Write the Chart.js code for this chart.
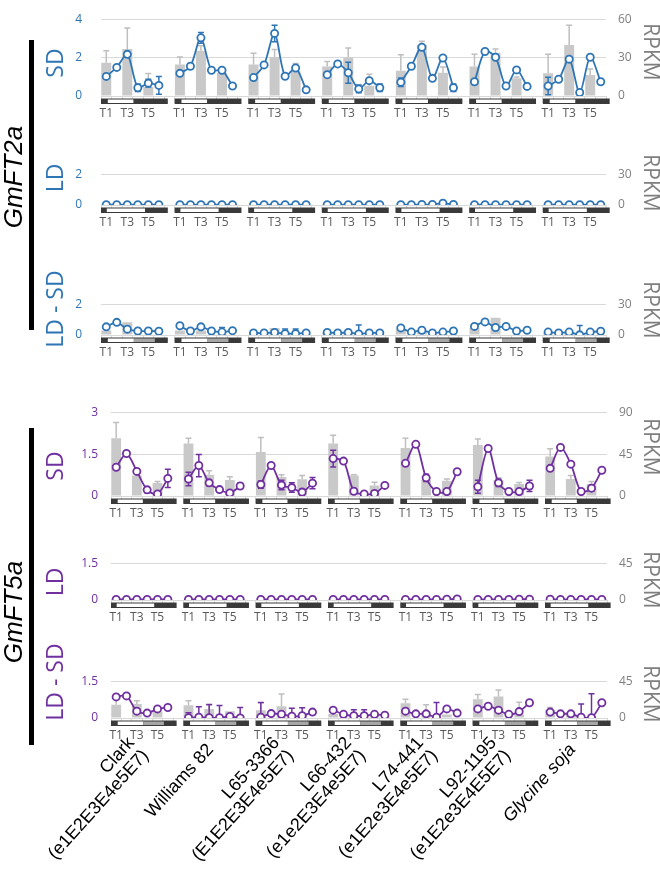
<!DOCTYPE html>
<html>
<head>
<meta charset="utf-8">
<script src="https://cdn.jsdelivr.net/npm/chart.js@4.4.1/dist/chart.umd.min.js"></script>
<style>
    body { margin: 0; background: #fff; }
    #wrap { position: relative; width: 660px; height: 881px; overflow: hidden; background: #fff; }
    #wrap canvas { position: absolute; left: 0; }
    .txt { position: absolute; white-space: nowrap; line-height: 1; }
    .bar { position: absolute; background: #000; }
    .geno { position: absolute; white-space: pre; text-align: right; font-family: "Liberation Sans", Arial, sans-serif;
            font-size: 18px; line-height: 19px; color: #000; transform-origin: 100% 50%; transform: rotate(-48deg); }
</style>
</head>
<body>
<div id="wrap"></div>
<script>
// Genotipos y etiquetas de tiempo
const genotypes = [
    ['Clark', '(e1E2E3E4e5E7)'],
    ['Williams 82'],
    ['L65-3366', '(E1E2E3E4e5E7)'],
    ['L66-432', '(e1e2E3E4e5E7)'],
    ['L74-441', '(e1E2e3E4e5E7)'],
    ['L92-1195', '(e1E2e3E4E5E7)'],
    ['Glycine soja']
];
const timeLabels = ['T1', '', 'T3', '', 'T5', ''];

// Fotoperiodo (en unidades de punto de tiempo, T1 = 0)
const sdSchedule = [['D', -0.5, 0.15], ['L', 0.15, 2.58], ['D', 2.58, 5.85]];
const ldSchedule = [['D', -0.5, 0.05], ['L', 0.05, 3.68], ['D', 3.68, 5.85]];
const ldsdSchedule = [['D', -0.5, 0.15], ['L', 0.15, 2.62], ['G', 2.62, 4.62], ['D', 4.62, 5.85]];

// GmFT2a - SD
const ft2aSdLine = [
    [1.02, 1.49, 2.17, 0.43, 0.67, 0.55],
    [1.18, 1.55, 3.03, 1.34, 1.34, 0.52],
    [0.96, 1.62, 3.26, 1.03, 1.46, 0.32],
    [1.11, 1.67, 1.21, 0.37, 0.80, 0.43],
    [0.72, 1.55, 2.54, 0.92, 1.98, 0.43],
    [0.74, 2.32, 2.02, 0.52, 1.36, 0.50],
    [0.52, 0.87, 1.92, 0.18, 2.02, 0.74]
];
const ft2aSdLineErr = [
    [0.05, 0.05, 0.12, 0.20, 0.20, 0.46],
    [0.06, 0.05, 0.28, 0.05, 0.05, 0.12],
    [0.05, 0.05, 0.43, 0.05, 0.08, 0.08],
    [0.05, 0.05, 0.55, 0.20, 0.10, 0.20],
    [0.22, 0.05, 0.08, 0.05, 0.10, 0.20],
    [0.05, 0.05, 0.10, 0.12, 0.05, 0.15],
    [0.46, 0.05, 0.05, 0.05, 0.10, 0.10]
];
const ft2aSdRpkm = [[26, 36.7, 7], [24.7, 35.3, 18.2], [24.7, 30.4, 19.3], [23, 30, 8], [19.8, 39.8, 18.2], [23, 33.8, 13.8], [17.8, 39.8, 16.4]];
const ft2aSdRpkmErr = [[9.3, 16.4, 10.5], [5.8, 4, 2], [8.7, 6, 6], [4, 7.5, 9], [12.4, 3, 4.5], [9.6, 2.9, 1], [14.9, 15.5, 4.7]];

// GmFT2a - LD
const ft2aLdLine = [
    [0.02, 0.02, 0.02, 0.02, 0.02, 0.02],
    [0.02, 0.02, 0.02, 0.02, 0.02, 0.02],
    [0.02, 0.02, 0.02, 0.02, 0.02, 0.02],
    [0.02, 0.02, 0.02, 0.02, 0.02, 0.02],
    [0.02, 0.02, 0.03, 0.03, 0.12, 0.03],
    [0.02, 0.02, 0.02, 0.02, 0.02, 0.02],
    [0.02, 0.02, 0.02, 0.02, 0.02, 0.02]
];
const ft2aLdLineErr = [
    [0, 0, 0, 0, 0, 0], [0, 0, 0, 0, 0, 0], [0, 0, 0, 0, 0, 0], [0, 0, 0, 0, 0, 0],
    [0, 0, 0, 0, 0.03, 0], [0, 0, 0, 0, 0, 0], [0, 0, 0, 0, 0, 0]
];
const ft2aLdRpkm = [[0.1, 0.1, 0.1], [0.1, 0.1, 0.1], [0.1, 0.1, 0.1], [0.1, 0.1, 0.1], [0.1, 0.2, 0.2], [0.1, 0.1, 0.1], [0.1, 0.1, 0.1]];
const ft2aLdRpkmErr = [[0, 0, 0], [0, 0, 0], [0, 0, 0], [0, 0, 0], [0, 0, 0], [0, 0, 0], [0, 0, 0]];

// GmFT2a - LD - SD
const ft2aLdSdLine = [
    [0.53, 0.82, 0.38, 0.26, 0.26, 0.24],
    [0.60, 0.26, 0.53, 0.26, 0.19, 0.28],
    [0.13, 0.13, 0.16, 0.09, 0.09, 0.13],
    [0.16, 0.13, 0.16, 0.07, 0.13, 0.13],
    [0.46, 0.19, 0.31, 0.13, 0.19, 0.26],
    [0.56, 0.85, 0.49, 0.56, 0.26, 0.31],
    [0.19, 0.13, 0.19, 0.01, 0.19, 0.24]
];
const ft2aLdSdLineErr = [
    [0.03, 0.03, 0.03, 0.06, 0.05, 0.04],
    [0.03, 0.05, 0.03, 0.04, 0.30, 0.06],
    [0.10, 0.03, 0.03, 0.30, 0.30, 0.10],
    [0.03, 0.03, 0.05, 0.58, 0.10, 0.10],
    [0.03, 0.03, 0.05, 0.06, 0.03, 0.03],
    [0.03, 0.03, 0.03, 0.03, 0.03, 0.03],
    [0.03, 0.10, 0.03, 0.60, 0.10, 0.03]
];
const ft2aLdSdRpkm = [[4.4, 12.4, 0.5], [4.4, 4.4, 1], [1, 6.8, 0.3], [2, 2, 0.5], [5.7, 3.5, 0.3], [6.8, 16.8, 0.5], [2, 2, 0.5]];
const ft2aLdSdRpkmErr = [[0, 0, 0], [0, 0, 0], [0, 0, 0], [0, 0, 0], [0, 0, 0], [0, 0, 0], [0, 0, 0]];

// GmFT5a - SD
const ft5aSdLine = [
    [1.03, 1.52, 0.88, 0.22, 0.07, 0.63],
    [0.61, 1.09, 0.47, 0.23, 0.11, 0.36],
    [0.41, 1.09, 0.39, 0.30, 0.14, 0.46],
    [1.34, 1.25, 0.17, 0.07, 0.09, 0.38],
    [1.17, 1.85, 0.65, 0.16, 0.16, 0.87],
    [0.33, 1.70, 0.47, 0.16, 0.16, 0.36],
    [0.99, 1.74, 1.14, 0.16, 0.28, 0.92]
];
const ft5aSdLineErr = [
    [0.04, 0.07, 0.04, 0.10, 0.04, 0.33],
    [0.24, 0.40, 0.10, 0.04, 0.07, 0.10],
    [0.13, 0.04, 0.17, 0.17, 0.10, 0.20],
    [0.30, 0.04, 0.04, 0.04, 0.04, 0.08],
    [0.04, 0.07, 0.13, 0.04, 0.04, 0.10],
    [0.23, 0.07, 0.13, 0.04, 0.04, 0.20],
    [0.04, 0.07, 0.04, 0.04, 0.10, 0.04]
];
const ft5aSdRpkm = [[61.9, 22.1, 14], [56.4, 22.8, 17.3], [47.2, 20.5, 17.9], [56.4, 22, 11.4], [51.5, 17.3, 16.3], [54.7, 17.3, 13], [42.3, 18.2, 13]];
const ft5aSdRpkmErr = [[17, 1, 1.6], [5.5, 4.2, 3.3], [15.6, 2.3, 4.2], [8.8, 0.7, 3.3], [10.4, 1.6, 2], [6.5, 2.3, 1.6], [8.5, 3.9, 2.6]];

// GmFT5a - LD
const ft5aLdLine = [
    [0.02, 0.02, 0.02, 0.02, 0.02, 0.02],
    [0.02, 0.02, 0.02, 0.02, 0.02, 0.02],
    [0.02, 0.02, 0.02, 0.02, 0.02, 0.02],
    [0.02, 0.02, 0.02, 0.02, 0.02, 0.02],
    [0.02, 0.02, 0.02, 0.02, 0.03, 0.04],
    [0.02, 0.02, 0.02, 0.02, 0.03, 0.03],
    [0.03, 0.02, 0.02, 0.02, 0.02, 0.02]
];
const ft5aLdLineErr = [
    [0, 0, 0, 0, 0, 0], [0, 0, 0, 0, 0, 0], [0, 0, 0, 0, 0, 0], [0, 0, 0, 0, 0, 0],
    [0, 0, 0, 0, 0, 0], [0, 0, 0, 0, 0, 0], [0, 0, 0, 0, 0, 0]
];
const ft5aLdRpkm = [[0.2, 0.2, 0.2], [0.2, 0.2, 0.2], [0.2, 0.2, 0.2], [0.2, 0.2, 0.2], [0.2, 0.2, 0.2], [0.2, 0.2, 0.2], [0.2, 0.2, 0.2]];
const ft5aLdRpkmErr = [[0, 0, 0], [0, 0, 0], [0, 0, 0], [0, 0, 0], [0, 0, 0], [0, 0, 0], [0, 0, 0]];

// GmFT5a - LD - SD
const ft5aLdSdLine = [
    [0.86, 0.90, 0.28, 0.20, 0.37, 0.43],
    [0.01, 0.03, 0.01, 0.01, 0.06, 0.00],
    [0.03, 0.18, 0.15, 0.07, 0.09, 0.24],
    [0.32, 0.15, 0.09, 0.09, 0.15, 0.11],
    [0.28, 0.17, 0.17, 0.03, 0.37, 0.20],
    [0.37, 0.48, 0.32, 0.15, 0.26, 0.62],
    [0.24, 0.17, 0.17, 0.03, 0.01, 0.62]
];
const ft5aLdSdLineErr = [
    [0.03, 0.03, 0.03, 0.03, 0.03, 0.03],
    [0.20, 0.43, 0.54, 0.50, 0.05, 0.43],
    [0.60, 0.10, 0.10, 0.33, 0.33, 0.03],
    [0.03, 0.10, 0.25, 0.25, 0.05, 0.05],
    [0.03, 0.03, 0.03, 0.60, 0.03, 0.03],
    [0.03, 0.03, 0.03, 0.03, 0.03, 0.03],
    [0.03, 0.03, 0.03, 0.54, 0.98, 0.03]
];
const ft5aLdSdRpkm = [[16.2, 17.2, 7.8], [15.5, 11, 8.4], [9.5, 14.5, 3], [5, 3, 3], [17.9, 7.8, 4.4], [23, 26.4, 4.4], [10, 5, 2]];
const ft5aLdSdRpkmErr = [[10, 4, 0], [5.7, 5, 0], [9, 15, 0], [0, 0, 0], [5, 8.4, 0], [5.7, 7.8, 15], [2.7, 0, 0]];

// Colores
const BLUE = '#2e75b6';
const PURPLE = '#7030a0';
const GRAY_BAR = '#c9c9c9';
const GRAY_ERR = '#bfbfbf';

// Paneles: posición del área del gráfico en la página
const panels = [
    { line: ft2aSdLine, lineErr: ft2aSdLineErr, rpkm: ft2aSdRpkm, rpkmErr: ft2aSdRpkmErr, sched: sdSchedule,
      color: BLUE, yMax: 4, yStep: 2, y2Max: 60, y2Step: 30, left: 101, right: 606, top: 5, bottom: 96, tickPad: 19 },
    { line: ft2aLdLine, lineErr: ft2aLdLineErr, rpkm: ft2aLdRpkm, rpkmErr: ft2aLdRpkmErr, sched: ldSchedule,
      color: BLUE, yMax: 2, yStep: 2, y2Max: 30, y2Step: 30, left: 101, right: 606, top: 160, bottom: 205, tickPad: 19 },
    { line: ft2aLdSdLine, lineErr: ft2aLdSdLineErr, rpkm: ft2aLdSdRpkm, rpkmErr: ft2aLdSdRpkmErr, sched: ldsdSchedule,
      color: BLUE, yMax: 2, yStep: 2, y2Max: 30, y2Step: 30, left: 101, right: 606, top: 290, bottom: 335, tickPad: 19 },
    { line: ft5aSdLine, lineErr: ft5aSdLineErr, rpkm: ft5aSdRpkm, rpkmErr: ft5aSdRpkmErr, sched: sdSchedule,
      color: PURPLE, yMax: 3, yStep: 1.5, y2Max: 90, y2Step: 45, left: 111, right: 607, top: 404, bottom: 496, tickPad: 13 },
    { line: ft5aLdLine, lineErr: ft5aLdLineErr, rpkm: ft5aLdRpkm, rpkmErr: ft5aLdRpkmErr, sched: ldSchedule,
      color: PURPLE, yMax: 1.5, yStep: 1.5, y2Max: 45, y2Step: 45, left: 111, right: 607, top: 555, bottom: 600, tickPad: 13 },
    { line: ft5aLdSdLine, lineErr: ft5aLdSdLineErr, rpkm: ft5aLdSdRpkm, rpkmErr: ft5aLdSdRpkmErr, sched: ldsdSchedule,
      color: PURPLE, yMax: 1.5, yStep: 1.5, y2Max: 45, y2Step: 45, left: 111, right: 607, top: 673, bottom: 718, tickPad: 13 }
];

const PAD_TOP = 12;
const X_AXIS_H = 30;

// Aplanar los grupos con un hueco entre genotipos
function flatLine(groups) {
    const out = [];
    groups.forEach((g, i) => {
        g.forEach(v => out.push(v));
        if (i < groups.length - 1) out.push(null);
    });
    return out;
}

function flatBars(groups) {
    const out = [];
    groups.forEach((g, i) => {
        g.forEach(v => { out.push(v); out.push(null); });
        if (i < groups.length - 1) out.push(null);
    });
    return out;
}

function buildLabels() {
    const out = [];
    genotypes.forEach((g, i) => {
        timeLabels.forEach(t => out.push(t));
        if (i < genotypes.length - 1) out.push('');
    });
    return out;
}

// Barras de error, dibujadas con las escalas del gráfico
function drawErrors(chart, dsIndex, values, errs, color, both) {
    const ctx = chart.ctx;
    const meta = chart.getDatasetMeta(dsIndex);
    const ys = chart.scales[meta.yAxisID];
    const area = chart.chartArea;
    ctx.save();
    ctx.beginPath();
    ctx.rect(area.left, area.top - 2, area.right - area.left, area.bottom - area.top + 2);
    ctx.clip();
    ctx.strokeStyle = color;
    ctx.lineWidth = 1.5;
    values.forEach((v, i) => {
        const e = errs[i];
        if (v === null || !e) return;
        const x = meta.data[i].x;
        const yTop = ys.getPixelForValue(v + e);
        const yBot = both ? ys.getPixelForValue(v - e) : ys.getPixelForValue(v);
        ctx.beginPath();
        ctx.moveTo(x, yTop); ctx.lineTo(x, yBot);
        ctx.moveTo(x - 3, yTop); ctx.lineTo(x + 3, yTop);
        if (both) { ctx.moveTo(x - 3, yBot); ctx.lineTo(x + 3, yBot); }
        ctx.stroke();
    });
    ctx.restore();
}

const extrasPlugin = {
    id: 'extras',
    afterDatasetDraw(chart, args, opts) {
        if (args.index === 1) {
            drawErrors(chart, 1, opts.barVals, opts.barErr, GRAY_ERR, false);
        }
    },
    beforeDatasetDraw(chart, args, opts) {
        if (args.index === 0) {
            drawErrors(chart, 0, opts.lineVals, opts.lineErr, opts.color, true);
        }
    },
    afterDraw(chart, args, opts) {
        // Barra de luz / oscuridad debajo de cada genotipo
        const ctx = chart.ctx;
        const xs = chart.scales.x;
        const y0 = chart.chartArea.bottom + 2.5;
        const h = 5.5;
        ctx.save();
        genotypes.forEach((g, gi) => {
            const base = gi * 7;
            const first = opts.sched[0][1];
            const last = opts.sched[opts.sched.length - 1][2];
            const xa = xs.getPixelForValue(base + first);
            const xb = xs.getPixelForValue(base + last);
            ctx.fillStyle = '#3a3a3a';
            ctx.fillRect(xa, y0, xb - xa, h);
            opts.sched.forEach(seg => {
                if (seg[0] === 'D') return;
                const x0 = xs.getPixelForValue(base + seg[1]);
                const x1 = xs.getPixelForValue(base + seg[2]);
                ctx.fillStyle = seg[0] === 'L' ? '#ffffff' : '#a6a6a6';
                ctx.fillRect(x0, y0 + 1, x1 - x0, h - 2);
            });
        });
        ctx.restore();
    }
};

const wrap = document.getElementById('wrap');
const labels = buildLabels();
const charts = [];

panels.forEach(p => {
    const canvas = document.createElement('canvas');
    const height = (p.bottom - p.top) + PAD_TOP + X_AXIS_H;
    canvas.width = 660;
    canvas.height = height;
    canvas.style.top = (p.top - PAD_TOP) + 'px';
    wrap.appendChild(canvas);

    const lineVals = flatLine(p.line);
    const lineErr = flatLine(p.lineErr);
    const barVals = flatBars(p.rpkm);
    const barErr = flatBars(p.rpkmErr);

    const chart = new Chart(canvas.getContext('2d'), {
        type: 'bar',
        data: {
            labels: labels,
            datasets: [{
                type: 'line',
                data: lineVals,
                yAxisID: 'y',
                borderColor: p.color,
                borderWidth: 1.8,
                pointRadius: 3.6,
                pointBorderWidth: 1.8,
                pointBackgroundColor: '#ffffff',
                pointBorderColor: p.color,
                tension: 0.3,
                spanGaps: false
            }, {
                type: 'bar',
                data: barVals,
                yAxisID: 'y2',
                backgroundColor: GRAY_BAR,
                barPercentage: 0.95,
                categoryPercentage: 1.0
            }]
        },
        options: {
            responsive: false,
            animation: false,
            devicePixelRatio: 1,
            layout: { padding: { top: PAD_TOP, left: 0, right: 0, bottom: 0 } },
            plugins: {
                legend: { display: false },
                tooltip: { enabled: false },
                extras: { lineVals, lineErr, barVals, barErr, color: p.color, sched: p.sched }
            },
            scales: {
                x: {
                    grid: { offset: true, drawOnChartArea: false, drawTicks: true, tickLength: 7, color: '#d9d9d9' },
                    border: { display: false },
                    ticks: { autoSkip: false, maxRotation: 0, minRotation: 0, color: '#595959', padding: 3,
                             font: { family: 'Open Sans', size: 12 } },
                    afterFit: s => { s.height = X_AXIS_H; }
                },
                y: {
                    position: 'left',
                    min: 0, max: p.yMax,
                    grid: { color: '#d9d9d9', drawTicks: false },
                    border: { display: false },
                    ticks: { stepSize: p.yStep, color: p.color, padding: p.tickPad,
                             font: { family: 'Open Sans', size: 12 } },
                    afterFit: s => { s.width = p.left; }
                },
                y2: {
                    position: 'right',
                    min: 0, max: p.y2Max,
                    grid: { drawOnChartArea: false, drawTicks: false },
                    border: { display: false },
                    ticks: { stepSize: p.y2Step, color: '#7f7f7f', padding: 12,
                             font: { family: 'Open Sans', size: 12 } },
                    afterFit: s => { s.width = 660 - p.right; }
                }
            }
        },
        plugins: [extrasPlugin]
    });
    charts.push(chart);
});

// Textos de la figura
function addText(text, cx, cy, rot, css) {
    const d = document.createElement('div');
    d.className = 'txt';
    d.textContent = text;
    d.style.left = cx + 'px';
    d.style.top = cy + 'px';
    d.style.transform = `translate(-50%, -50%) rotate(${rot}deg)`;
    Object.assign(d.style, css);
    wrap.appendChild(d);
}

function addBar(x, y0, y1) {
    const d = document.createElement('div');
    d.className = 'bar';
    d.style.left = x + 'px';
    d.style.top = y0 + 'px';
    d.style.width = '5px';
    d.style.height = (y1 - y0) + 'px';
    wrap.appendChild(d);
}

const condFont = { fontFamily: '"Open Sans", sans-serif', fontSize: '23px' };
const rpkmFont = { fontFamily: '"Open Sans", sans-serif', fontSize: '21px', color: '#7f7f7f' };
const geneFont = { fontFamily: '"Liberation Sans", Arial, sans-serif', fontSize: '26px', fontStyle: 'italic', color: '#000' };

[['SD', 63], ['LD', 178], ['LD - SD', 309]].forEach(t => addText(t[0], 54, t[1], -90, { ...condFont, color: BLUE }));
[['SD', 466], ['LD', 582], ['LD - SD', 682]].forEach(t => addText(t[0], 54, t[1], -90, { ...condFont, color: PURPLE }));
[52, 183, 310, 447, 580, 694].forEach(y => addText('RPKM', 651, y, 90, rpkmFont));

addText('GmFT2a', 13, 177, -90, geneFont);
addText('GmFT5a', 13, 612, -90, geneFont);
addBar(29, 40, 330);
addBar(29, 428, 745);

// Etiquetas de genotipo, centradas en cada grupo del último panel
const lastX = charts[charts.length - 1].scales.x;
genotypes.forEach((g, gi) => {
    const d = document.createElement('div');
    d.className = 'geno';
    d.textContent = g.join('\n');
    if (g[0] === 'Glycine soja') d.style.fontStyle = 'italic';
    const ax = lastX.getPixelForValue(gi * 7 + 2.5) - 4;
    const ay = 746;
    d.style.right = (660 - ax) + 'px';
    d.style.top = (ay - g.length * 19 / 2) + 'px';
    wrap.appendChild(d);
});
</script>
</body>
</html>
